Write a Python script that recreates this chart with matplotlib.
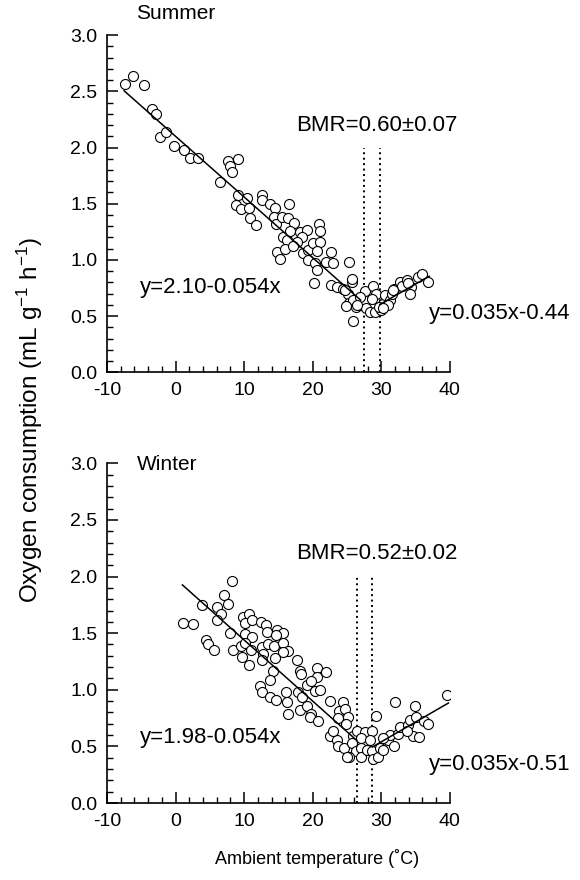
import numpy as np
import matplotlib
matplotlib.use("Agg")
from matplotlib import pyplot as plt
from matplotlib.ticker import MultipleLocator

plt.rcParams["font.family"] = ["Liberation Sans", "DejaVu Sans"]
plt.rcParams["mathtext.fontset"] = "custom"
plt.rcParams["mathtext.rm"] = "Liberation Sans"
plt.rcParams["mathtext.default"] = "regular"
plt.rcParams["axes.unicode_minus"] = False

# Summer data (ambient temperature, oxygen consumption)
summer_x = [-7.4, -6.25, -4.6, -3.5, -2.9, -2.27, -1.44, -0.23, 1.27, 2.1, 3.2, 6.47,
            7.7, 7.9, 8.2, 9.15, 9.15, 10.4, 8.8, 9.5, 10.7, 10.85, 11.7, 12.55, 12.6,
            13.8, 14.5, 16.6, 14.4, 14.6, 15.5, 16.4, 17.3, 15.6, 16.2, 16.7, 18.1, 19.2,
            18.4, 17.65, 14.8, 15.2, 15.9, 17.2, 18.6, 19.25, 20.1, 21.0, 20.95, 21.05,
            20.6, 19.3, 20.3, 20.6, 21.9, 22.6, 22.9, 20.2, 22.7, 23.5, 25.3, 24.45, 25.8,
            25.2, 25.3, 25.9, 26.3, 26.9, 25.9, 27.6, 27.6, 27.85, 28.8, 29.2, 28.7, 28.3,
            29.1, 30.0, 30.3, 30.5, 31.3, 31.5, 31.8, 32.7, 33.1, 33.7, 34.4, 35.4, 35.9,
            36.8, 33.9, 29.7, 26.9, 31.0, 25.7, 24.7, 24.9, 26.4, 30.3, 31.7, 34.2]
summer_y = [2.57, 2.64, 2.56, 2.34, 2.30, 2.09, 2.14, 2.01, 1.98, 1.91, 1.91, 1.69,
            1.88, 1.84, 1.78, 1.90, 1.58, 1.55, 1.49, 1.45, 1.46, 1.37, 1.31, 1.58, 1.53,
            1.50, 1.46, 1.50, 1.38, 1.32, 1.38, 1.37, 1.33, 1.20, 1.18, 1.26, 1.25, 1.27,
            1.20, 1.16, 1.07, 1.01, 1.10, 1.12, 1.06, 1.09, 1.15, 1.16, 1.32, 1.26,
            1.08, 1.00, 0.97, 0.91, 0.98, 1.07, 0.97, 0.79, 0.78, 0.76, 0.98, 0.74, 0.80,
            0.70, 0.62, 0.64, 0.58, 0.60, 0.46, 0.72, 0.63, 0.57, 0.77, 0.70, 0.65, 0.54,
            0.54, 0.55, 0.61, 0.69, 0.64, 0.70, 0.74, 0.80, 0.77, 0.82, 0.76, 0.85, 0.87,
            0.80, 0.79, 0.58, 0.67, 0.60, 0.83, 0.73, 0.59, 0.60, 0.57, 0.73, 0.70]

# Winter data
winter_x = [8.27, 7.06, 7.7, 6.1, 3.8, 6.7, 6.0, 1.03, 2.6, 7.9, 9.9, 10.7, 10.1, 11.1,
            12.4, 13.2, 13.3, 14.8, 15.6, 14.6, 4.4, 10.1, 11.2, 4.7, 5.6, 8.4, 9.6, 9.7,
            10.1, 10.95, 10.75, 12.55, 13.5, 14.3, 15.6, 16.4, 15.6, 12.8, 12.55, 14.5,
            17.65, 14.25, 18.1, 18.3, 20.6, 20.6, 21.9, 13.8, 12.3, 12.55, 13.8, 14.7,
            16.05, 16.2, 16.4, 17.9, 18.4, 19.2, 19.8, 20.3, 21.05, 18.1, 19.2, 19.7,
            19.6, 20.8, 22.5, 22.5, 23.5, 23.7, 23.9, 24.45, 24.7, 25.2, 23.7, 24.9, 23.0,
            25.9, 26.5, 27.6, 28.7, 29.2, 32.0, 34.9, 24.55, 25.7, 26.3, 27.1, 25.3, 27.0,
            27.9, 28.6, 28.8, 29.5, 29.8, 30.3, 31.0, 31.8, 31.25, 32.5, 32.7, 33.9, 34.2,
            34.7, 35.5, 35.1, 36.2, 36.8, 39.6, 27.1, 28.3, 30.3, 25.0, 33.7]
winter_y = [1.96, 1.84, 1.76, 1.73, 1.75, 1.67, 1.62, 1.59, 1.58, 1.50, 1.64, 1.67, 1.59, 1.62,
            1.60, 1.57, 1.51, 1.53, 1.50, 1.48, 1.44, 1.49, 1.47, 1.40, 1.35, 1.35, 1.39, 1.29,
            1.41, 1.35, 1.22, 1.38, 1.40, 1.39, 1.41, 1.34, 1.33, 1.32, 1.26, 1.28,
            1.26, 1.17, 1.17, 1.14, 1.19, 1.11, 1.16, 1.09, 1.03, 0.98, 0.94, 0.91,
            0.98, 0.89, 0.79, 0.98, 0.94, 1.04, 1.08, 0.99, 1.00, 0.82, 0.86, 0.79,
            0.76, 0.72, 0.90, 0.59, 0.56, 0.50, 0.81, 0.89, 0.83, 0.76, 0.75, 0.70, 0.64,
            0.59, 0.64, 0.63, 0.64, 0.77, 0.89, 0.86, 0.49, 0.53, 0.46, 0.49, 0.41, 0.41,
            0.47, 0.46, 0.39, 0.41, 0.49, 0.47, 0.56, 0.50, 0.60, 0.61, 0.67, 0.69, 0.73,
            0.59, 0.58, 0.76, 0.72, 0.70, 0.95, 0.57, 0.56, 0.57, 0.41, 0.64]

# regression fits: (intercept, slope, x range) for each side of the thermoneutral zone
summer_low = (2.10, -0.054, -7.5, 27.0)
summer_high = (-0.44, 0.035, 29.8, 37.0)
winter_low = (1.98, -0.054, 1.0, 26.4)
winter_high = (-0.51, 0.035, 28.7, 39.8)
summer_tnz = [27.5, 29.8]
winter_tnz = [26.4, 28.7]

panels = [
    ("Summer", summer_x, summer_y, summer_low, summer_high, summer_tnz,
     "BMR=0.60\u00b10.07", "y=2.10-0.054x", 0.75, "y=0.035x-0.44", 0.525, 3.19),
    ("Winter", winter_x, winter_y, winter_low, winter_high, winter_tnz,
     "BMR=0.52\u00b10.02", "y=1.98-0.054x", 0.58, "y=0.035x-0.51", 0.34, 2.99),
]

fig = plt.figure(figsize=(5.8, 8.8), dpi=100)
rects = [[0.1845, 0.577, 0.591, 0.383], [0.1845, 0.0875, 0.591, 0.386]]

for rect, p in zip(rects, panels):
    name, xs, ys, low, high, tnz, bmr, eq1, eq1y, eq2, eq2y, ty = p
    ax = fig.add_axes(rect)
    ax.scatter(xs, ys, s=52, facecolors="white", edgecolors="black",
               linewidths=0.8, zorder=3)
    for b, m, x0, x1 in (low, high):
        xx = np.array([x0, x1])
        ax.plot(xx, b + m * xx, color="black", lw=1.1, zorder=4)
    for v in tnz:
        ax.plot([v, v], [0, 2.0], color="black", lw=1.4, ls=(0, (1.0, 1.8)), zorder=2)
    ax.text(29.4, 2.2, bmr, ha="center", va="center", fontsize=16)
    ax.text(5.15, eq1y, eq1, ha="center", va="center", fontsize=16)
    ax.text(47.3, eq2y, eq2, ha="center", va="center", fontsize=16, clip_on=False)
    ax.text(-5.7, ty, name, ha="left", va="center", fontsize=15)

    ax.set_xlim(-10, 40)
    ax.set_ylim(0, 3.0)
    ax.xaxis.set_major_locator(MultipleLocator(10))
    ax.xaxis.set_minor_locator(MultipleLocator(2))
    ax.yaxis.set_major_locator(MultipleLocator(0.5))
    ax.yaxis.set_minor_locator(MultipleLocator(0.1))
    ax.yaxis.set_major_formatter(plt.FormatStrFormatter("%.1f"))
    ax.spines["top"].set_visible(False)
    ax.spines["right"].set_visible(False)
    for s in ("left", "bottom"):
        ax.spines[s].set_linewidth(1.2)
    ax.tick_params(which="major", direction="in", length=8, width=1.1, labelsize=14, pad=7)
    ax.tick_params(which="minor", direction="in", length=4.5, width=1.0)

fig.text(0.052, 0.523, "Oxygen consumption (mL g$^{-1}$ h$^{-1}$)", rotation=90,
         ha="center", va="center", fontsize=17.5)
fig.text(0.546, 0.025, "Ambient temperature (\u02daC)", ha="center", va="center", fontsize=13)

fig.savefig("out.png", dpi=100)
